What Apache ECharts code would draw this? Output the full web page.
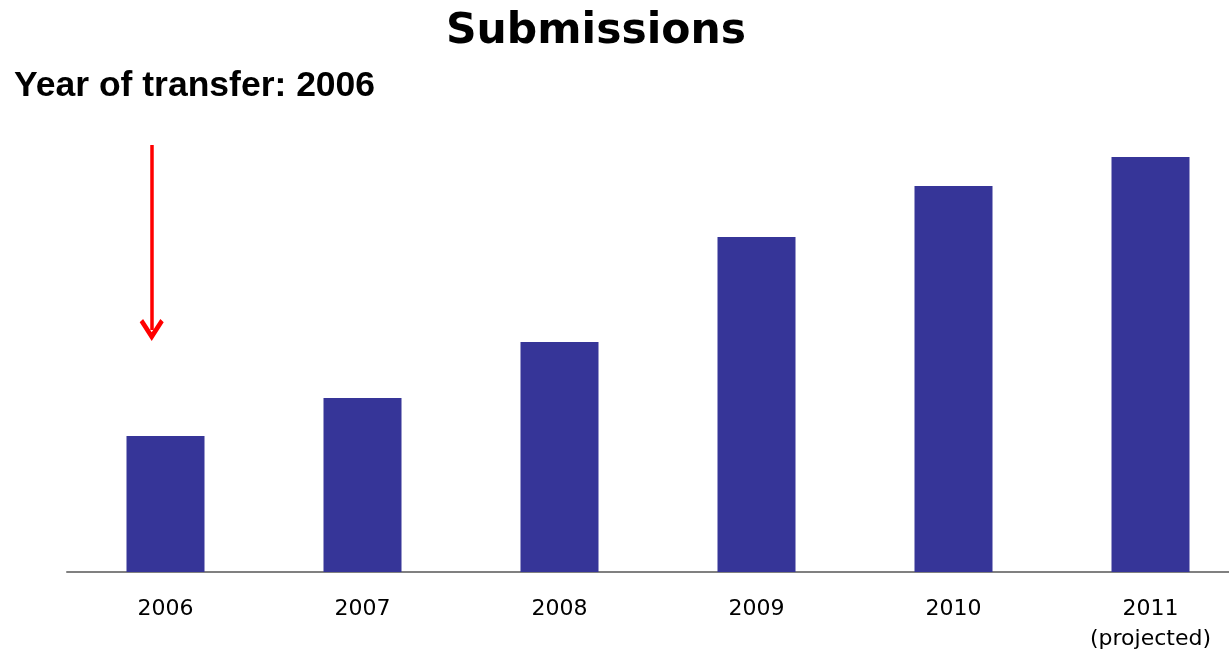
<!DOCTYPE html>
<html><head><meta charset="utf-8">
<script src="https://cdn.jsdelivr.net/npm/echarts@6/dist/echarts.min.js"></script>
<style>html,body{margin:0;padding:0;background:#fff;overflow:hidden}#c{width:1249px;height:657px}</style>
</head><body><div id="c"></div>
<script>
var categories = ['2006', '2007', '2008', '2009', '2010', '2011\n(projected)'];
var submissions = [136, 174, 230, 335, 386, 415];
var arrowX = -0.07;
var arrowFrom = 427, arrowTo = 242;

var chart = echarts.init(document.getElementById('c'));
chart.setOption({
  animation: false,
  title: [
    { text: 'Submissions', left: 446, top: 10, padding: 0,
      textStyle: { fontFamily: 'DejaVu Sans', fontWeight: 'bold', fontSize: 42.5, color: '#000' } },
    { text: 'Year of transfer: 2006', left: 14, top: 68, padding: 0,
      textStyle: { fontFamily: 'Liberation Sans', fontWeight: 'bold', fontSize: 35.5, color: '#000' } }
  ],
  grid: { left: 67, right: 0, top: 100, bottom: 85 },
  xAxis: [{
    type: 'category', data: categories,
    axisLine: { lineStyle: { color: '#808080', width: 2 } },
    axisTick: { show: false },
    axisLabel: { margin: 22, color: '#000', fontFamily: 'DejaVu Sans', fontSize: 22, lineHeight: 30 }
  }, {
    type: 'value', min: -0.5, max: 5.5, show: false, splitLine: { show: false }
  }],
  yAxis: { type: 'value', min: 0, max: 472, show: false, splitLine: { show: false } },
  series: [{
    type: 'bar', data: submissions, barWidth: 78,
    itemStyle: { color: '#363598' }
  }, {
    type: 'line', xAxisIndex: 1, data: [], showSymbol: false,
    markLine: {
      silent: true,
      symbol: ['none', 'path://M5,0 L10,8.5 L8.6,10 L5,4 L1.4,10 L0,8.5 Z'],
      symbolSize: [24, 22],
      lineStyle: { color: '#ff0000', width: 3.5, type: 'solid' },
      label: { show: false },
      data: [[{ coord: [arrowX, arrowFrom] }, { coord: [arrowX, arrowTo] }]]
    }
  }]
});
</script></body></html>
